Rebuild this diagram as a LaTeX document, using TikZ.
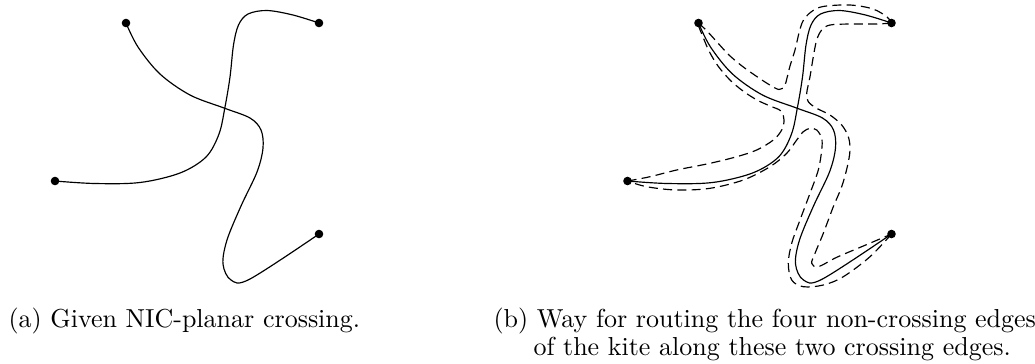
\documentclass[tikz,border=0pt]{standalone}
\begin{document}
\begin{tikzpicture}[x=0.3846pt,y=-0.3846pt,
  dot/.style={circle,fill=black,inner sep=0pt,minimum size=3.3pt},
  edgeline/.style={line width=0.45pt},
  route/.style={line width=0.45pt,dash pattern=on 3.5pt off 2pt},
  captext/.style={anchor=base west,inner sep=0pt}]
\useasboundingbox (0,0) rectangle (1035,363);
% ---------- (a) ----------
\node[dot] (A) at (126,23) {};
\node[dot] (B) at (319,23) {};
\node[dot] (C) at (55,181) {};
\node[dot] (D) at (319,234) {};
\draw[edgeline] plot[smooth,tension=0.55] coordinates {(A.center) (138,47) (160,74) (190,95) (224,108) (250,118) (261,130) (263,148) (257,172) (241,206) (227,240) (223,264) (231,280) (250,279) (D.center)};
\draw[edgeline] plot[smooth,tension=0.55] coordinates {(B.center) (293,15) (267,10.5) (248,14) (238.5,25) (233.5,45) (230,77) (225,107) (219,134) (206,157) (180,173) (140,182.5) (95,183.5) (C.center)};
% ---------- (b) ----------
\node[dot] (A2) at (698.5,23) {};
\node[dot] (B2) at (891.5,23) {};
\node[dot] (C2) at (627.5,181) {};
\node[dot] (D2) at (891.5,234) {};
\draw[edgeline] plot[smooth,tension=0.55] coordinates {(A2.center) (710.5,47) (732.5,74) (762.5,95) (796.5,108) (822.5,118) (833.5,130) (835.5,148) (829.5,172) (813.5,206) (799.5,240) (795.5,264) (803.5,280) (822.5,279) (D2.center)};
\draw[edgeline] plot[smooth,tension=0.55] coordinates {(B2.center) (865.5,15) (839.5,10.5) (820.5,14) (811,25) (806,45) (802.5,77) (797.5,107) (791.5,134) (778.5,157) (752.5,173) (712.5,182.5) (667.5,183.5) (C2.center)};
% routes of the kite edges
\draw[route] plot[smooth,tension=0.55] coordinates {(A2.center) (707,31) (717,42) (729,55) (742,66) (756,76) (769,84.5) (779,89.5) (784.5,86) (787,78) (790,66) (795,50) (799,33) (803,21) (811,12) (823,6.5) (850,5) (873,9) (887,17) (B2.center)};
\draw[route] plot[smooth,tension=0.55] coordinates {(B2.center) (876.7,24) (850,24) (830,25) (821.7,30) (816.7,40) (813.3,56.7) (810,76.7) (806.7,93.3) (808.3,101.7) (816.7,108.3) (830,115) (841.7,125) (848.3,136.7) (850,150) (847.3,166.7) (841.7,186.7) (833.3,206.7) (823.3,233.3) (815,253.3) (811.7,263.3) (818.3,266.7) (836.7,257.3) (863.3,246) (D2.center)};
\draw[route] plot[smooth,tension=0.55] coordinates {(D2.center) (870,256.7) (843.3,276.7) (823.3,285) (803.3,286.7) (791.7,280) (788.3,263.3) (791.7,243.3) (800,220) (810,193.3) (818.3,170) (821.7,150) (821.7,138.3) (816.7,130) (810,128.3) (803.3,131.7) (796.7,140) (786.7,153.3) (770,166.7) (743.3,180) (710,188.3) (676.7,190) (646.7,186.7) (C2.center)};
\draw[route] plot[smooth,tension=0.55] coordinates {(C2.center) (650,176.7) (676.7,170) (710,163.3) (736.7,156.7) (756.7,150) (773.3,140) (781.7,130) (784,120) (781,111) (770,106) (757,100) (743,91) (730,80) (718,66) (709,51) (703,37) (699,27) (A2.center)};
% captions
\node[captext] (capa) at (8,327) {(a) Given NIC-planar crossing.};
\node[captext] (capb1) at (493,327) {(b) Way for routing the four non-crossing edges};
\node[captext] (capb2) at (533,355) {of the kite along these two crossing edges.};
\end{tikzpicture}
\end{document}
